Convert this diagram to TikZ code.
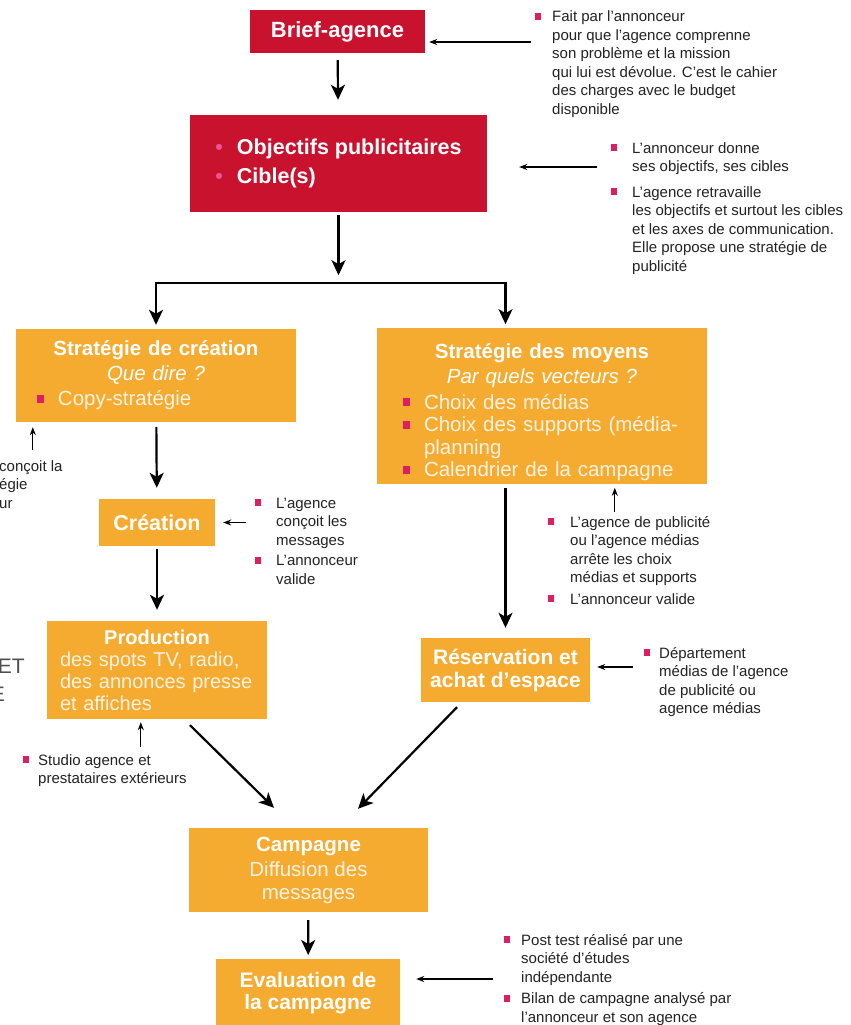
\documentclass[tikz,border=0pt]{standalone}
\usepackage{fontspec}
\setmainfont{Liberation Sans}
\usetikzlibrary{arrows.meta, calc}

\definecolor{Carmin}{RGB}{200,18,46}
\definecolor{Ambre}{RGB}{245,170,48}
\definecolor{Rose}{RGB}{222,30,100}
\definecolor{RosePale}{RGB}{236,80,150}
\definecolor{Encre}{RGB}{35,35,35}
\colorlet{Creme}{white!86!Ambre}

\newcommand{\puce}{\textcolor{Rose}{\rule[2pt]{6pt}{7pt}}}
\newcommand{\Puce}{\textcolor{Rose}{\rule[3pt]{7pt}{8pt}}}
\newcommand{\pointrose}{\textcolor{RosePale}{\textbullet}}

\tikzset{
  boiterouge/.style={fill=Carmin, text=white, inner sep=0pt, align=center,
    font=\fontsize{22}{26}\selectfont\bfseries},
  boiteambre/.style={fill=Ambre, text=white, inner xsep=14pt, inner ysep=0pt,
    font=\fontsize{20.5}{25}\selectfont},
  note/.style={anchor=base west, inner sep=0pt, text=Encre,
    font=\fontsize{15}{18.5}\selectfont},
  fleche/.style={-{Stealth[length=15pt,width=14pt,inset=4pt]}, line width=2.2pt, black},
  trait/.style={line width=2.2pt, black, line cap=rect},
  fine/.style={-{Stealth[length=8pt,width=6pt]}, line width=1.1pt, black},
}

\begin{document}
\begin{tikzpicture}[x=1pt,y=-1pt]
\path[use as bounding box, fill=white] (0,0) rectangle (851,1025);
\clip (0,0) rectangle (851,1025);

% boites rouges
\node[boiterouge, minimum width=175pt, minimum height=43pt] (brief) at (337.5,31.5) {Brief-agence};
\node[boiterouge, minimum width=297pt, minimum height=97pt,
  font=\fontsize{21.5}{29}\selectfont\bfseries] (obj) at (338.5,163.5)
  {\begin{tabular}{@{}l@{\hspace{14pt}}l@{}}
    \pointrose & Objectifs publicitaires\\
    \pointrose & Cible(s)
  \end{tabular}};

% boites ambre
\node[boiteambre, text width=252pt, minimum height=93pt, align=left] (cstrat) at (156,375.5)
  {\centerline{\bfseries Strat\'egie de cr\'eation}
   \centerline{\itshape Que dire~?}
   \hspace*{7pt}\Puce\hspace{14pt}\textcolor{Creme}{Copy-strat\'egie}};
\node[boiteambre, text width=302pt, minimum height=154pt, align=left] (moyens) at (542,406)
  {\vspace*{5pt}
   \centerline{\bfseries Strat\'egie des moyens}
   \centerline{\itshape Par quels vecteurs~?}\vspace{1pt}
   \fontsize{20.5}{22.5}\selectfont
   \hspace*{12pt}\begin{tabular}[t]{@{}l@{\hspace{14pt}}l@{}}
     \Puce & \textcolor{Creme}{Choix des m\'edias}\\
     \Puce & \textcolor{Creme}{Choix des supports (m\'edia-}\\
           & \textcolor{Creme}{planning}\\
     \Puce & \textcolor{Creme}{Calendrier de la campagne}
   \end{tabular}};
\node[boiteambre, inner xsep=0pt, minimum width=116pt, minimum height=47pt,
  font=\fontsize{21.5}{25}\selectfont\bfseries] (creation) at (157,522.5) {Cr\'eation};
\node[boiteambre, inner xsep=8pt, text width=204pt, minimum height=98pt, align=left,
  font=\fontsize{20}{22}\selectfont] (prod) at (157,670)
  {\centerline{\bfseries Production}
   \hspace*{5pt}\textcolor{Creme}{des spots TV, radio,}\\
   \hspace*{5pt}\textcolor{Creme}{des annonces presse}\\
   \hspace*{5pt}\textcolor{Creme}{et affiches}};
\node[boiteambre, inner xsep=0pt, minimum width=169pt, minimum height=64pt, align=center,
  font=\fontsize{21}{23}\selectfont\bfseries] (resa) at (505.5,670)
  {R\'eservation et\\achat d'espace};
\node[boiteambre, inner xsep=0pt, minimum width=239pt, minimum height=84pt, align=center,
  font=\fontsize{20.5}{23}\selectfont] (camp) at (308.5,870)
  {{\bfseries Campagne}\\[2pt]\textcolor{Creme}{Diffusion des}\\\textcolor{Creme}{messages}};
\node[boiteambre, inner xsep=0pt, inner ysep=13.5pt, minimum width=184pt, align=center,
  anchor=north, font=\fontsize{21}{22}\selectfont\bfseries] (eval) at (308,959)
  {Evaluation de\\la campagne};

% notes
\node[note] (nbrief) at (535,22)
  {\begin{tabular}[t]{@{}l@{\hspace{11pt}}l@{}}
    \puce & Fait par l'annonceur\\
          & pour que l'agence comprenne\\
          & son probl\`eme et la mission\\
          & qui lui est d\'evolue. C'est le cahier\\
          & des charges avec le budget\\
          & disponible
  \end{tabular}};
\node[note] (nobj) at (611,153)
  {\begin{tabular}[t]{@{}l@{\hspace{15pt}}l@{}}
    \puce & L'annonceur donne\\
          & ses objectifs, ses cibles\\[7pt]
    \puce & L'agence retravaille\\
          & les objectifs et surtout les cibles\\
          & et les axes de communication.\\
          & Elle propose une strat\'egie de\\
          & publicit\'e
  \end{tabular}};
\node[note] (npart) at (-1,471)
  {\begin{tabular}[t]{@{}l@{}}
    con\c{c}oit la\\
    \'egie\\
    ur
  \end{tabular}};
\node[note] (ncrea) at (255,508)
  {\begin{tabular}[t]{@{}l@{\hspace{15pt}}l@{}}
    \puce & L'agence\\
          & con\c{c}oit les\\
          & messages\\[2pt]
    \puce & L'annonceur\\
          & valide
  \end{tabular}};
\node[note] (nmoy) at (548,527)
  {\begin{tabular}[t]{@{}l@{\hspace{16pt}}l@{}}
    \puce & L'agence de publicit\'e\\
          & ou l'agence m\'edias\\
          & arr\^ete les choix\\
          & m\'edias et supports\\[3pt]
    \puce & L'annonceur valide
  \end{tabular}};
\node[note] (nresa) at (644,658)
  {\begin{tabular}[t]{@{}l@{\hspace{9pt}}l@{}}
    \puce & D\'epartement\\
          & m\'edias de l'agence\\
          & de publicit\'e ou\\
          & agence m\'edias
  \end{tabular}};
\node[note] (nstudio) at (23,765)
  {\begin{tabular}[t]{@{}l@{\hspace{9pt}}l@{}}
    \puce & Studio agence et\\
          & prestataires ext\'erieurs
  \end{tabular}};
\node[note] (neval) at (504,945)
  {\begin{tabular}[t]{@{}l@{\hspace{11pt}}l@{}}
    \puce & Post test r\'ealis\'e par une\\
          & soci\'et\'e d'\'etudes\\
          & ind\'ependante\\[3pt]
    \puce & Bilan de campagne analys\'e par\\
          & l'annonceur et son agence
  \end{tabular}};
\node[anchor=base east, inner sep=0pt, text=Encre!80,
  font=\fontsize{21}{28}\selectfont] (coupe) at (25,673)
  {\begin{tabular}[t]{@{}r@{}}ET\\E\kern20pt\end{tabular}};

% fleches principales
\coordinate (fourche) at ($(obj.south)+(0,71)$);
\draw[fleche, shorten <=7pt, shorten >=15pt] (brief) -- (obj);
\draw[fleche, shorten <=3pt, shorten >=8pt] (obj) -- (fourche);
\draw[trait] (fourche -| cstrat) -- (fourche -| resa);
\draw[fleche, shorten >=4pt] (fourche -| cstrat) -- (cstrat);
\draw[fleche, shorten >=4pt] (fourche -| resa) -- (resa |- moyens.north);
\draw[fleche, shorten <=5pt, shorten >=11pt] (cstrat) -- (creation);
\draw[fleche, shorten <=3pt, shorten >=11pt] (creation) -- (prod);
\draw[fleche, shorten <=4pt, shorten >=10pt] (resa |- moyens.south) -- (resa);
\draw[fleche] ($(prod.south)+(33,6)$) -- ($(camp.north)+(-34.5,-20)$);
\draw[fleche] ($(resa.south)+(-48.5,5)$) -- ($(camp.north)+(49.5,-19)$);
\draw[fleche, shorten <=8pt, shorten >=4pt] (camp) -- (eval);

% fleches des notes
\draw[fine] ($(brief.east -| nbrief.west)+(-4,10.5)$) -- ($(brief.east)+(4,10.5)$);
\draw[fine] ($(obj.east -| nobj.west)+(-14,3.5)$) -- ($(obj.east)+(32,3.5)$);
\draw[fine] ($(creation.east -| ncrea.west)+(-9,0)$) -- ($(creation.east)+(8,0)$);
\draw[fine] ($(resa.east -| nresa.west)+(-11,-3)$) -- ($(resa.east)+(7,-3)$);
\draw[fine] ($(eval.north east -| neval.west)+(-11,20)$) -- ($(eval.north east)+(16,20)$);
\coordinate (pc) at ($(cstrat.south west)+(17,5)$);
\coordinate (pm) at ($(moyens.south west)+(238,4)$);
\coordinate (pp) at ($(prod.south west)+(94,3)$);
\draw[fine] ($(pc |- npart.north)+(0,-8)$) -- (pc);
\draw[fine] ($(pm |- nmoy.north)+(0,-2)$) -- (pm);
\draw[fine] ($(pp |- nstudio.north)+(0,-5)$) -- (pp);
\end{tikzpicture}
\end{document}
